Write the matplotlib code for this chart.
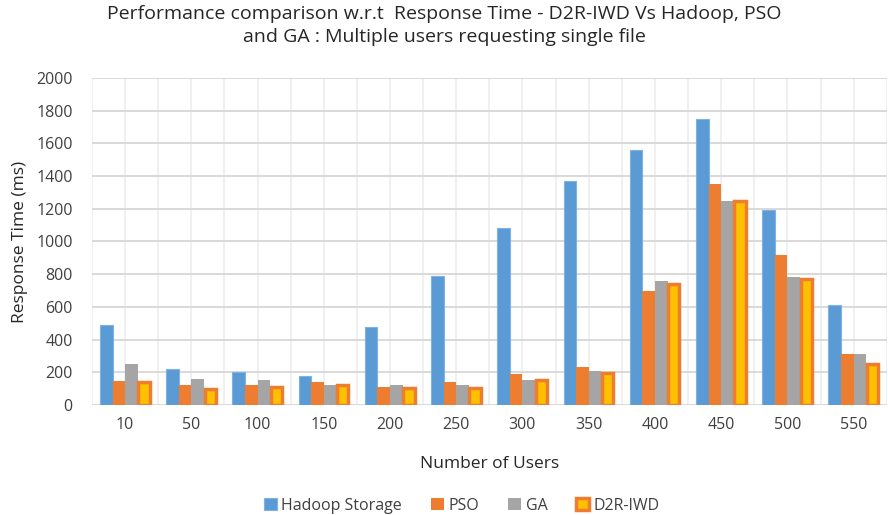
import matplotlib
matplotlib.use("Agg")
import matplotlib.pyplot as plt
import numpy as np

plt.rcParams['font.family'] = ['Open Sans', 'DejaVu Sans']

users = ['10', '50', '100', '150', '200', '250', '300', '350', '400', '450', '500', '550']
hadoop = [490, 220, 200, 180, 480, 790, 1080, 1370, 1560, 1750, 1190, 610]
pso = [145, 120, 125, 140, 110, 140, 190, 230, 700, 1350, 920, 310]
ga = [250, 160, 155, 125, 120, 125, 155, 210, 760, 1250, 785, 310]
d2r = [140, 100, 110, 125, 105, 105, 155, 195, 740, 1250, 770, 250]
yticks = [0, 200, 400, 600, 800, 1000, 1200, 1400, 1600, 1800, 2000]

fig = plt.figure(figsize=(8.88, 5.15), dpi=100)
ax = fig.add_axes([0.1036, 0.2136, 0.895, 0.635])

x = np.arange(len(users))
w = 0.19
ax.bar(x - 1.5 * w, hadoop, w, color='#5B9BD5', edgecolor='#7FB2E0', linewidth=0.8, label='Hadoop Storage', zorder=3)
ax.bar(x - 0.5 * w, pso, w, color='#ED7D31', linewidth=0, label='PSO', zorder=3)
ax.bar(x + 0.5 * w, ga, w, color='#A5A5A5', linewidth=0, label='GA', zorder=3)
ax.bar(x + 1.5 * w, d2r, w * 0.9, color='#FFC000', edgecolor='#ED7D31', linewidth=2.5, label='D2R-IWD', zorder=3)

ax.set_xlim(-0.5, len(users) - 0.5)
ax.set_ylim(0, 2000)
ax.set_yticks(yticks)
ax.set_xticks(x)
ax.set_xticklabels(users)

for yv in yticks:
    ax.axhline(yv, color='#D9D9D9', linewidth=1.4, zorder=1)
for xv in np.arange(-0.5, len(users), 0.5):
    ax.axvline(xv, color='#EDEDED', linewidth=1.2, zorder=0)

for s in ax.spines.values():
    s.set_visible(False)
ax.tick_params(axis='both', which='both', length=0, labelsize=11.5, colors='#404040')
ax.tick_params(axis='x', pad=9)
ax.tick_params(axis='y', pad=14)

ax.set_xlabel('Number of Users', fontsize=12.5, color='#262626', labelpad=16)
ax.set_ylabel('Response Time (ms)', fontsize=12.5, color='#262626', labelpad=6)

fig.suptitle('Performance comparison w.r.t  Response Time - D2R-IWD Vs Hadoop, PSO\nand GA : Multiple users requesting single file',
             fontsize=14, color='#262626', y=0.99, linespacing=1.35)

leg = fig.legend(loc='lower center', bbox_to_anchor=(0.52, -0.025), ncol=4, frameon=False,
                 fontsize=11.5, handlelength=0.8, handleheight=0.8, handletextpad=0.3, columnspacing=1.8)
for t in leg.get_texts():
    t.set_color('#404040')

fig.savefig('out.png', dpi=100)
